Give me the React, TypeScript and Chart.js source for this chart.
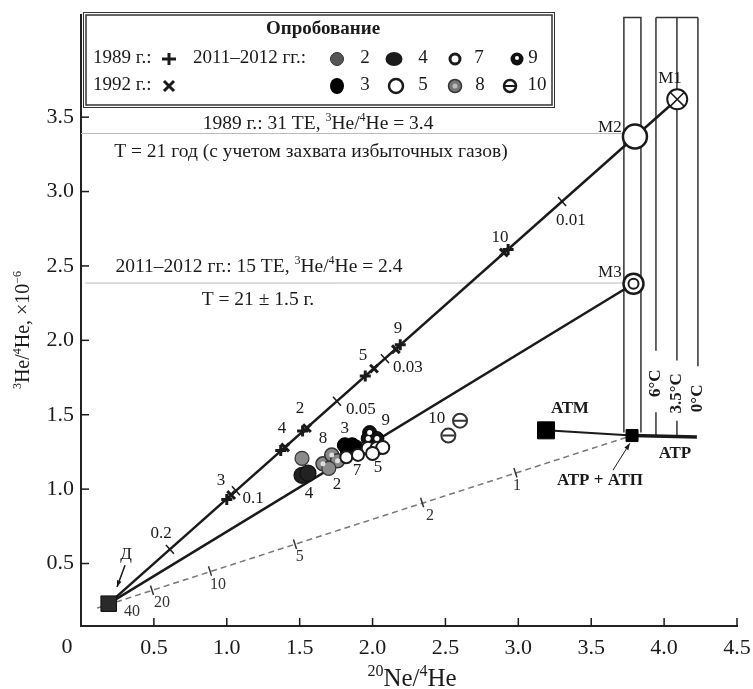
import React, { useEffect, useRef } from "react";
import { Chart, registerables } from "chart.js";
Chart.register(...registerables);

// ---------- axes ----------
const xTickValues = [0, 0.5, 1, 1.5, 2, 2.5, 3, 3.5, 4, 4.5];
const yTickValues = [0.5, 1, 1.5, 2, 2.5, 3, 3.5];
const xRange = [0, 4.5];
const yRange = [0.08, 4.19];

// ---------- end members ----------
const pD = [0.19, 0.23];
const pM1 = [4.09, 3.62];
const pM2 = [3.8, 3.37];
const pM3 = [3.79, 2.38];
const pATM = [3.19, 1.395];
const pATP = [3.78, 1.36];
const atpEnd = [4.225, 1.35];
const dashStart = [0.11, 0.2];

// ---------- marks along the lines ----------
const upperTicks = [[0.61, 0.595], [1.063, 0.989], [1.756, 1.591], [2.085, 1.877], [3.3, 2.933]];
const upperTickLabels = ["0.2", "0.1", "0.05", "0.03", "0.01"];
const upperTickLabelPos = [[0.549, 0.704], [1.18, 0.94], [1.92, 1.536], [2.243, 1.818], [3.36, 2.805]];

const dashTicks = [[0.487, 0.32], [0.885, 0.45], [1.468, 0.63], [2.34, 0.91], [2.98, 1.11]];
const dashLabels = ["40", "20", "10", "5", "2", "1"];
const dashLabelPos = [[0.35, 0.174], [0.556, 0.234], [0.94, 0.355], [1.5, 0.543], [2.394, 0.818], [2.99, 1.02]];

// ---------- samples ----------
const samples1989 = [[1.0, 0.93], [1.37, 1.26], [1.52, 1.39], [1.95, 1.76], [2.19, 1.97], [2.93, 2.61]];
const samples1992 = [[1.03, 0.96], [1.4, 1.28], [1.55, 1.41], [2.01, 1.81], [2.16, 1.94], [2.9, 2.59]];
const sampleNumbers = ["3", "4", "2", "5", "9", "10"];
const sampleNumberPos = [[0.96, 1.06], [1.379, 1.409], [1.502, 1.543], [1.934, 1.899], [2.174, 2.08], [2.874, 2.69]];

const s2 = [[1.516, 1.207], [1.7, 1.14]];
const s3 = [[1.81, 1.295], [1.86, 1.295], [1.83, 1.26], [1.885, 1.28]];
const s4 = [[1.516, 1.093], [1.557, 1.107]];
const s5 = [[1.97, 1.275], [2.03, 1.275], [2.07, 1.28], [2.0, 1.24]];
const s7 = [[1.82, 1.214], [1.9, 1.23]];
const s8 = [[1.66, 1.17], [1.72, 1.23], [1.76, 1.19]];
const s9 = [[1.98, 1.38], [1.97, 1.34], [2.03, 1.34]];
const s10 = [[2.52, 1.36], [2.6, 1.46]];
const clusterLabels = ["8", "3", "9", "4", "2", "7", "5", "10"];
const clusterLabelPos = [[1.66, 1.342], [1.81, 1.409], [2.09, 1.463], [1.564, 0.973], [1.756, 1.033], [1.893, 1.127], [2.037, 1.147], [2.44, 1.476]];

// ---------- boxes / levels ----------
const rectAX = [3.724, 3.841];
const rectABottom = 1.38;
const rectBX = [3.944, 4.088, 4.232];
const rectTop = 4.17;
const rectBBreaks = [[1.93, 1.516], [1.865, 1.46], [1.825, 1.476]];
const rectBBottoms = [1.35, 1.35, null];
const tempLabels = ["6°C", "3.5°C", "0°C"];
const tempLabelY = [1.711, 1.644, 1.61];
const refLevels = [3.39, 2.385];
const refStartX = [0.0, 0.03];

const SERIF = "'Liberation Serif', 'DejaVu Serif', serif";
const INK = "#1a1a1a";

const pts = (a) => a.map(([x, y]) => ({ x, y }));

function seg(points, width, color = INK, dash = []) {
  return {
    data: pts(points),
    showLine: true,
    pointRadius: 0,
    borderColor: color,
    borderWidth: width,
    borderDash: dash,
    backgroundColor: color,
    order: 5,
  };
}

function mark(points, style, radius, fill, stroke, bw, order = 0, rotation = 0) {
  return {
    data: pts(points),
    showLine: false,
    pointStyle: style,
    pointRadius: radius,
    pointBackgroundColor: fill,
    pointBorderColor: stroke,
    pointBorderWidth: bw,
    pointRotation: rotation,
    backgroundColor: fill,
    borderColor: stroke,
    order,
  };
}

function drawRich(ctx, parts, cx, cy, size, bold = false, align = "center") {
  const f = (k) => `${bold ? "bold " : ""}${k ? Math.round(size * 0.62) : size}px ${SERIF}`;
  let w = 0;
  for (const [t, k] of parts) {
    ctx.font = f(k);
    w += ctx.measureText(t).width;
  }
  let x = align === "center" ? cx - w / 2 : cx;
  const base = cy + size * 0.33;
  ctx.textAlign = "left";
  ctx.textBaseline = "alphabetic";
  for (const [t, k] of parts) {
    ctx.font = f(k);
    ctx.fillText(t, x, k ? base - size * 0.4 : base);
    x += ctx.measureText(t).width;
  }
}

function txt(ctx, t, x, y, size, bold = false, align = "center") {
  ctx.font = `${bold ? "bold " : ""}${size}px ${SERIF}`;
  ctx.textAlign = align;
  ctx.textBaseline = "middle";
  ctx.fillText(t, x, y);
}

function arrow(ctx, x1, y1, x2, y2) {
  ctx.beginPath();
  ctx.moveTo(x1, y1);
  ctx.lineTo(x2, y2);
  ctx.stroke();
  const a = Math.atan2(y2 - y1, x2 - x1);
  ctx.beginPath();
  ctx.moveTo(x2, y2);
  ctx.lineTo(x2 - 7 * Math.cos(a - 0.35), y2 - 7 * Math.sin(a - 0.35));
  ctx.lineTo(x2 - 7 * Math.cos(a + 0.35), y2 - 7 * Math.sin(a + 0.35));
  ctx.closePath();
  ctx.fill();
}

function circ(ctx, x, y, r, fill, stroke, lw) {
  ctx.beginPath();
  ctx.arc(x, y, r, 0, Math.PI * 2);
  if (fill) { ctx.fillStyle = fill; ctx.fill(); }
  if (stroke) { ctx.strokeStyle = stroke; ctx.lineWidth = lw; ctx.stroke(); }
}

function ell(ctx, x, y, rx, ry, fill) {
  ctx.beginPath();
  ctx.ellipse(x, y, rx, ry, 0, 0, Math.PI * 2);
  ctx.fillStyle = fill;
  ctx.fill();
}

const overlay = {
  id: "overlay",
  afterDatasetsDraw(chart) {
    const ctx = chart.ctx;
    const xs = chart.scales.x, ys = chart.scales.y;
    const X = (v) => xs.getPixelForValue(v);
    const Y = (v) => ys.getPixelForValue(v);
    const { left, bottom } = chart.chartArea;
    ctx.save();
    ctx.strokeStyle = INK;
    ctx.fillStyle = INK;
    ctx.lineWidth = 1.5;
    // inward tick marks
    for (const v of xTickValues) {
      if (v === 0) continue;
      ctx.beginPath(); ctx.moveTo(X(v), bottom); ctx.lineTo(X(v), bottom - 8); ctx.stroke();
    }
    for (const v of yTickValues) {
      ctx.beginPath(); ctx.moveTo(left, Y(v)); ctx.lineTo(left + 8, Y(v)); ctx.stroke();
    }
    txt(ctx, "0", X(0) - 14, bottom + 21, 22);

    // axis titles
    ctx.save();
    ctx.translate(22, 330);
    ctx.rotate(-Math.PI / 2);
    drawRich(ctx, [["3", 1], ["He/", 0], ["4", 1], ["He, ×10", 0], ["−6", 1]], 0, 0, 20);
    ctx.restore();
    drawRich(ctx, [["20", 1], ["Ne/", 0], ["4", 1], ["He", 0]], 412, 678, 25);

    // level notes
    ctx.fillStyle = INK;
    drawRich(ctx, [["1989 г.: 31 ТЕ, ", 0], ["3", 1], ["He/", 0], ["4", 1], ["He = 3.4", 0]], X(1.626), Y(3.463), 19.5);
    drawRich(ctx, [["T = 21 год (с учетом захвата избыточных газов)", 0]], X(1.577), Y(3.275), 19.5);
    drawRich(ctx, [["2011–2012 гг.: 15 ТЕ, ", 0], ["3", 1], ["He/", 0], ["4", 1], ["He = 2.4", 0]], X(1.221), Y(2.503), 19.5);
    drawRich(ctx, [["T = 21 ± 1.5 г.", 0]], X(1.214), Y(2.281), 19.5);

    // labels on lines
    upperTickLabels.forEach((t, i) => txt(ctx, t, X(upperTickLabelPos[i][0]), Y(upperTickLabelPos[i][1]), 17));
    sampleNumbers.forEach((t, i) => txt(ctx, t, X(sampleNumberPos[i][0]), Y(sampleNumberPos[i][1]), 17));
    clusterLabels.forEach((t, i) => txt(ctx, t, X(clusterLabelPos[i][0]), Y(clusterLabelPos[i][1]), 17));
    ctx.fillStyle = "#333";
    dashLabels.forEach((t, i) => txt(ctx, t, X(dashLabelPos[i][0]), Y(dashLabelPos[i][1]), 16));
    ctx.fillStyle = INK;

    txt(ctx, "Д", X(0.309), Y(0.563), 17);
    arrow(ctx, X(0.302), Y(0.489), X(0.247), Y(0.342));
    txt(ctx, "М1", X(4.04), Y(3.758), 17);
    txt(ctx, "М2", X(3.628), Y(3.43), 17);
    txt(ctx, "М3", X(3.628), Y(2.456), 17);
    txt(ctx, "АТМ", X(3.354), Y(1.543), 17, true);
    txt(ctx, "АТР", X(4.074), Y(1.241), 17, true);
    txt(ctx, "АТР + АТП", X(3.56), Y(1.06), 17, true);
    ctx.lineWidth = 1;
    arrow(ctx, X(3.649), Y(1.127), X(3.765), Y(1.308));

    // temperature labels
    tempLabels.forEach((t, i) => {
      ctx.save();
      ctx.translate(X(rectBX[i]), Y(tempLabelY[i]));
      ctx.rotate(-Math.PI / 2);
      txt(ctx, t, 0, 0, 17, true);
      ctx.restore();
    });

    // legend box
    ctx.strokeStyle = "#333";
    ctx.lineWidth = 1.5;
    ctx.strokeRect(86, 15, 466, 90);
    ctx.lineWidth = 1;
    ctx.strokeRect(83.5, 12.5, 471, 95);
    ctx.fillStyle = INK;
    txt(ctx, "Опробование", 323, 29, 19, true);
    txt(ctx, "1989 г.:", 93, 58, 19, false, "left");
    txt(ctx, "1992 г.:", 93, 85, 19, false, "left");
    txt(ctx, "2011–2012 гг.:", 193, 58, 19, false, "left");
    ctx.strokeStyle = INK;
    ctx.lineWidth = 3;
    ctx.beginPath(); ctx.moveTo(162, 59); ctx.lineTo(176, 59); ctx.moveTo(169, 53); ctx.lineTo(169, 65); ctx.stroke();
    ctx.lineWidth = 3;
    ctx.beginPath(); ctx.moveTo(164, 81); ctx.lineTo(174, 91); ctx.moveTo(174, 81); ctx.lineTo(164, 91); ctx.stroke();
    // row 1
    circ(ctx, 337, 59, 6.5, "#555", "#333", 1);
    ell(ctx, 394, 59, 8.5, 7, "#1a1a1a");
    circ(ctx, 455, 59, 5, "#fff", INK, 3);
    circ(ctx, 517, 59, 6.5, "#111", null, 0);
    circ(ctx, 517, 58, 2, "#fff", null, 0);
    // row 2
    ell(ctx, 337, 86, 7, 8, "#000");
    circ(ctx, 396, 86, 7, "#fff", INK, 2.5);
    circ(ctx, 455, 86, 6.5, "#777", "#333", 1.5);
    circ(ctx, 455, 86, 2.5, "#bbb", null, 0);
    circ(ctx, 510, 86, 6, "#fff", INK, 2.5);
    ctx.strokeStyle = INK; ctx.lineWidth = 2;
    ctx.beginPath(); ctx.moveTo(504, 86); ctx.lineTo(516, 86); ctx.stroke();
    ctx.fillStyle = INK;
    [["2", 365, 58], ["4", 423, 58], ["7", 479, 58], ["9", 533, 58], ["3", 365, 85], ["5", 423, 85], ["8", 480, 85], ["10", 537, 85]].forEach(([t, x, y]) =>
      txt(ctx, t as string, x as number, y as number, 19)
    );
    ctx.restore();
  },
};

export default function App() {
  const ref = useRef(null);
  useEffect(() => {
    const canvas = ref.current;
    const datasets = [
      // markers on top
      mark([pM1], "circle", 10, "#fff", INK, 2, -1),
      mark([pM1], "crossRot", 10, INK, INK, 1.5, -2),
      mark([pM2], "circle", 12, "#fff", INK, 2.5, -1),
      mark([pM3], "circle", 10, "#fff", INK, 2.5, -1),
      mark([pM3], "circle", 5, "#fff", INK, 2, -2),
      mark([pD], "rect", 11, "#2a2a2a", "#111", 1, -1),
      mark([pATM], "rect", 12, "#000", "#000", 1, -1),
      mark([pATP], "rect", 8.5, "#000", "#000", 1, -1),
      mark(samples1989, "cross", 5.5, INK, INK, 3, 0),
      mark(samples1992, "crossRot", 5.5, INK, INK, 3, 0),
      mark(upperTicks, "line", 6, INK, INK, 1.5, 1, 48),
      mark(dashTicks, "line", 5, "#333", "#333", 1.5, 1, 72),
      mark(s2, "circle", 7, "#8a8a8a", "#333", 1.2, 0),
      mark(s4, "circle", 8, "#222", "#111", 1.2, 0),
      mark(s8, "circle", 7, "#888", "#333", 1.5, 0),
      mark(s8, "circle", 2.5, "#ddd", "#ddd", 0, -1),
      mark(s7, "circle", 6, "#fff", INK, 2, -1),
      mark(s3, "circle", 7.5, "#000", "#000", 1, 0),
      mark(s5, "circle", 6.5, "#fff", INK, 2, -1),
      mark(s9, "circle", 7, "#111", "#000", 1, 0),
      mark(s9, "circle", 2.5, "#fff", "#fff", 0, -2),
      mark(s10, "circle", 7, "#fff", "#333", 2, 0),
      mark(s10, "line", 6, "#333", "#333", 2, -1),
      // lines
      seg([pD, pM1], 2.5),
      seg([pD, pM3], 2.5),
      seg([dashStart, pATP], 1.5, "#777", [6, 4]),
      seg([pATM, pATP], 2),
      seg([pATP, atpEnd], 3.5),
      seg([[refStartX[0], refLevels[0]], [rectAX[0], refLevels[0]]], 1, "#bbb"),
      seg([[refStartX[1], refLevels[1]], [rectAX[0], refLevels[1]]], 1, "#bbb"),
      seg([[rectAX[0], rectABottom], [rectAX[0], rectTop], [rectAX[1], rectTop], [rectAX[1], rectABottom]], 1.5, "#333"),
      seg([[rectBX[0], rectTop], [rectBX[2], rectTop]], 1.5, "#333"),
      ...rectBX.map((x, i) => seg([[x, rectTop], [x, rectBBreaks[i][0]]], 1.5, "#333")),
      ...rectBX.filter((_, i) => rectBBottoms[i] !== null).map((x, i) =>
        seg([[x, rectBBreaks[i][1]], [x, rectBBottoms[i]]], 1.5, "#333")
      ),
    ];
    const chart = new Chart(canvas, {
      type: "scatter",
      data: { datasets },
      options: {
        animation: false,
        responsive: false,
        devicePixelRatio: 1,
        events: [],
        layout: { padding: { left: 0, right: 16, top: 13, bottom: 0 } },
        plugins: { legend: { display: false }, tooltip: { enabled: false } },
        scales: {
          x: {
            type: "linear",
            min: xRange[0],
            max: xRange[1],
            afterBuildTicks: (s) => { s.ticks = xTickValues.map((v) => ({ value: v })); },
            afterFit: (s) => {
              s.height = 63;
              s.paddingLeft = 0; s.paddingRight = 0; s.paddingTop = 0; s.paddingBottom = 0;
            },
            grid: { display: true, drawOnChartArea: false, drawTicks: false },
            border: { display: true, color: "#222", width: 2 },
            ticks: {
              color: INK,
              padding: 9,
              autoSkip: false,
              maxRotation: 0,
              font: { family: SERIF, size: 22 },
              callback: (v) => (Number(v) === 0 ? "" : Number(v).toFixed(1)),
            },
          },
          y: {
            type: "linear",
            min: yRange[0],
            max: yRange[1],
            afterBuildTicks: (s) => { s.ticks = yTickValues.map((v) => ({ value: v })); },
            afterFit: (s) => {
              s.width = 81;
              s.paddingLeft = 0; s.paddingRight = 0; s.paddingTop = 0; s.paddingBottom = 0;
            },
            grid: { display: true, drawOnChartArea: false, drawTicks: false },
            border: { display: true, color: "#222", width: 2 },
            ticks: {
              color: INK,
              padding: 7,
              font: { family: SERIF, size: 22 },
              callback: (v) => Number(v).toFixed(1),
            },
          },
        },
      },
      plugins: [overlay],
    });
    return () => chart.destroy();
  }, []);
  return (
    <div style={{ position: "absolute", left: 0, top: 0, width: 753, height: 689, background: "#fff" }}>
      <canvas ref={ref} width={753} height={689} style={{ width: 753, height: 689, display: "block" }} />
    </div>
  );
}
